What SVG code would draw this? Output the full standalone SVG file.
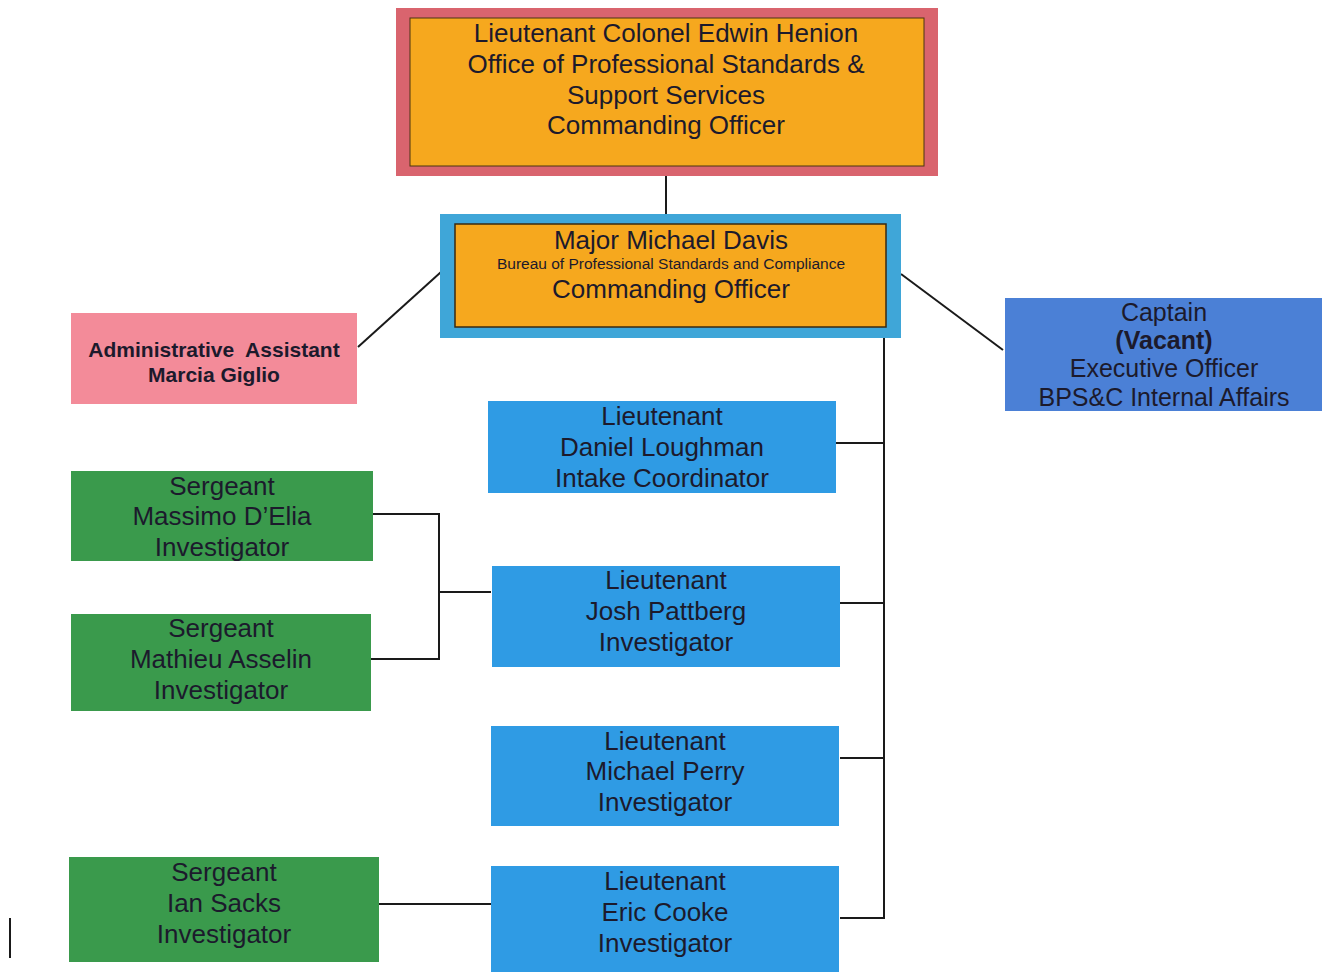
<svg xmlns="http://www.w3.org/2000/svg" width="1324" height="972" viewBox="0 0 1324 972">
<style>
text{font-family:"Liberation Sans",Arial,sans-serif;fill:#1c1a2c;text-anchor:middle;dominant-baseline:central}
.t26{font-size:26px}
.t25{font-size:25px}
.lt{fill:#2f9be4}
.sg{fill:#3a9a4c}
.con{stroke:#1a1a1a;stroke-width:2;fill:none}
</style>
<rect width="1324" height="972" fill="#ffffff"/>
<g id="connectors">
<line class="con" x1="666" y1="176" x2="666" y2="214"/>
<line class="con" x1="358" y1="347" x2="441" y2="272"/>
<line class="con" x1="901" y1="274" x2="1003" y2="350"/>
<polyline class="con" points="884,338 884,918 840,918"/>
<line class="con" x1="836" y1="443" x2="884" y2="443"/>
<line class="con" x1="840" y1="603" x2="884" y2="603"/>
<line class="con" x1="840" y1="758" x2="884" y2="758"/>
<polyline class="con" points="373,514 439,514 439,659 371,659"/>
<line class="con" x1="439" y1="592" x2="491" y2="592"/>
<line class="con" x1="379" y1="904" x2="491" y2="904"/>
<line class="con" x1="10" y1="918" x2="10" y2="958"/>
</g>
<g id="n-henion">
<rect x="396" y="8" width="542" height="168" fill="#d9646e"/>
<rect x="410" y="18" width="514" height="148" fill="#f6a81e" stroke="#4a3410" stroke-width="1"/>
<text class="t26" x="666" y="33">Lieutenant Colonel Edwin Henion</text>
<text class="t26" x="666" y="64">Office of Professional Standards &amp;</text>
<text class="t26" x="666" y="95">Support Services</text>
<text class="t26" x="666" y="125">Commanding Officer</text>
</g>
<g id="n-davis">
<rect x="440" y="214" width="461" height="124" fill="#3fa6d8"/>
<rect x="455" y="224" width="431" height="103" fill="#f6a81e" stroke="#3a2a10" stroke-width="1.5"/>
<text class="t26" x="671" y="240">Major Michael Davis</text>
<text x="671" y="263" style="font-size:15.5px">Bureau of Professional Standards and Compliance</text>
<text class="t26" x="671" y="289">Commanding Officer</text>
</g>
<g id="n-admin">
<rect x="71" y="313" width="286" height="91" fill="#f38b99"/>
<text x="214" y="349" style="font-size:21px;font-weight:bold;white-space:pre">Administrative  Assistant</text>
<text x="214" y="374" style="font-size:21px;font-weight:bold">Marcia Giglio</text>
</g>
<g id="n-captain">
<rect x="1005" y="298" width="317" height="113" fill="#4b80d6"/>
<text class="t25" x="1164" y="312">Captain</text>
<text class="t25" x="1164" y="340" style="font-weight:bold">(Vacant)</text>
<text class="t25" x="1164" y="368">Executive Officer</text>
<text class="t25" x="1164" y="397">BPS&amp;C Internal Affairs</text>
</g>
<g id="n-loughman">
<rect class="lt" x="488" y="401" width="348" height="92"/>
<text class="t26" x="662" y="416">Lieutenant</text>
<text class="t26" x="662" y="447">Daniel Loughman</text>
<text class="t26" x="662" y="478">Intake Coordinator</text>
</g>
<g id="n-pattberg">
<rect class="lt" x="492" y="566" width="348" height="101"/>
<text class="t26" x="666" y="580">Lieutenant</text>
<text class="t26" x="666" y="611">Josh Pattberg</text>
<text class="t26" x="666" y="642">Investigator</text>
</g>
<g id="n-perry">
<rect class="lt" x="491" y="726" width="348" height="100"/>
<text class="t26" x="665" y="741">Lieutenant</text>
<text class="t26" x="665" y="771">Michael Perry</text>
<text class="t26" x="665" y="802">Investigator</text>
</g>
<g id="n-cooke">
<rect class="lt" x="491" y="866" width="348" height="106"/>
<text class="t26" x="665" y="881">Lieutenant</text>
<text class="t26" x="665" y="912">Eric Cooke</text>
<text class="t26" x="665" y="943">Investigator</text>
</g>
<g id="n-delia">
<rect class="sg" x="71" y="471" width="302" height="90"/>
<text class="t26" x="222" y="486">Sergeant</text>
<text class="t26" x="222" y="516">Massimo D’Elia</text>
<text class="t26" x="222" y="547">Investigator</text>
</g>
<g id="n-asselin">
<rect class="sg" x="71" y="614" width="300" height="97"/>
<text class="t26" x="221" y="628">Sergeant</text>
<text class="t26" x="221" y="659">Mathieu Asselin</text>
<text class="t26" x="221" y="690">Investigator</text>
</g>
<g id="n-sacks">
<rect class="sg" x="69" y="857" width="310" height="105"/>
<text class="t26" x="224" y="872">Sergeant</text>
<text class="t26" x="224" y="903">Ian Sacks</text>
<text class="t26" x="224" y="934">Investigator</text>
</g>
</svg>
